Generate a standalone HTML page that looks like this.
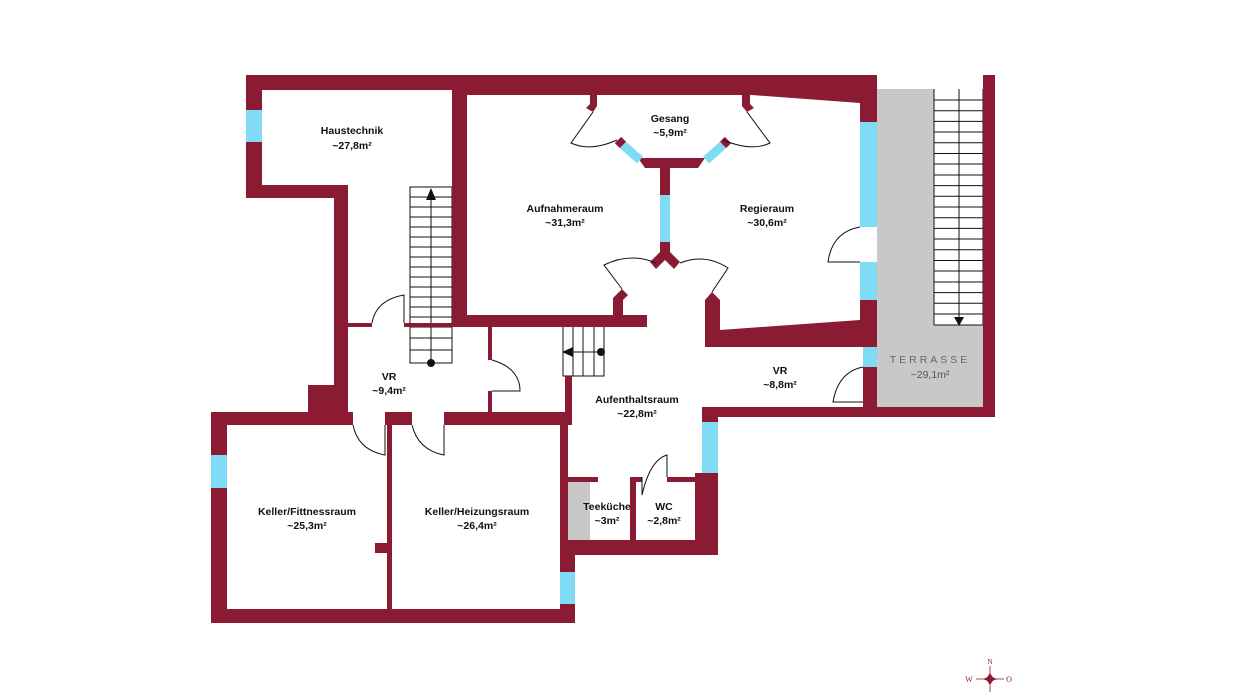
<!DOCTYPE html>
<html><head><meta charset="utf-8"><style>
html,body{margin:0;padding:0;background:#fff;}
svg{display:block}
text{font-family:"Liberation Sans",sans-serif;font-weight:bold;font-size:10.5px;fill:#111;text-anchor:middle}
</style></head><body>
<svg width="1236" height="700" viewBox="0 0 1236 700" xmlns="http://www.w3.org/2000/svg">
<g fill="#c8c8c8">
<rect x="877" y="89" width="106" height="318"/>
<rect x="568" y="482" width="22" height="58"/>
</g>
<rect x="934" y="89" width="49" height="236" fill="#fff"/>
<g stroke="#111" stroke-width="1" fill="none">
<path d="M934 89V325M983 89V325M959 89V320"/>
<path d="M934 100H983M934 110.7H983M934 121.4H983M934 132H983M934 142.8H983M934 153.5H983M934 164H983M934 175H983M934 185.6H983M934 196.3H983M934 207H983M934 217.7H983M934 228.4H983M934 239H983M934 249.8H983M934 260.5H983M934 271H983M934 282H983M934 292.6H983M934 303.3H983M934 314H983M934 325H983"/>
</g>
<path d="M954 317H964L959 326Z" fill="#111"/>
<rect x="410" y="187" width="42" height="176" fill="#fff"/>
<g stroke="#111" stroke-width="1" fill="none">
<path d="M410 187V363H452V187ZM431 195V363"/>
<path d="M410 197H452M410 207H452M410 217H452M410 227H452M410 237H452M410 247H452M410 257H452M410 267H452M410 277H452M410 287H452M410 297H452M410 307H452M410 317H452M410 327H452M410 338H452M410 350H452"/>
<path d="M563 327V376H604V327M573 327V376M583 327V376M594 327V376M570 352H600"/>
</g>
<path d="M426 200L431 188L436 200Z" fill="#111"/>
<circle cx="431" cy="363" r="4" fill="#111"/>
<circle cx="601" cy="352" r="4" fill="#111"/>
<path d="M562 352L573 347L573 357Z" fill="#111"/>
<g fill="#8b1a33">
<rect x="246" y="75" width="631" height="15"/>
<polygon points="452,75 877,75 877,122 860,122 860,103 752,95 452,95"/>
<rect x="246" y="75" width="16" height="123"/>
<rect x="246" y="185" width="102" height="13"/>
<rect x="334" y="185" width="14" height="230"/>
<rect x="308" y="385" width="40" height="30"/>
<rect x="452" y="75" width="15" height="252"/>
<rect x="452" y="315" width="195" height="12"/>
<rect x="348" y="323" width="24" height="4"/>
<rect x="404" y="323" width="48" height="4"/>
<polygon points="613,315 613,298 622,289 628,295 623,300 623,315"/>
<polygon points="705,347 705,300 712,292 720,300 720,330 860,320 860,300 877,300 877,347"/>
<rect x="860" y="300" width="17" height="47"/>
<rect x="488" y="327" width="4" height="33"/>
<rect x="488" y="391" width="4" height="24"/>
<rect x="211" y="412" width="142" height="13"/>
<rect x="385" y="412" width="27" height="13"/>
<rect x="444" y="412" width="124" height="13"/>
<rect x="565" y="376" width="7" height="49"/>
<rect x="211" y="412" width="16" height="211"/>
<rect x="211" y="609" width="364" height="14"/>
<rect x="387" y="425" width="5" height="184"/>
<rect x="375" y="543" width="12" height="10"/>
<rect x="560" y="425" width="8" height="130"/>
<rect x="560" y="552" width="15" height="71"/>
<rect x="568" y="540" width="150" height="15"/>
<rect x="695" y="473" width="23" height="82"/>
<rect x="702" y="407" width="16" height="15"/>
<rect x="702" y="407" width="293" height="10"/>
<rect x="983" y="75" width="12" height="342"/>
<rect x="860" y="75" width="17" height="47"/>
<rect x="568" y="477" width="30" height="5"/>
<rect x="630" y="477" width="12" height="5"/>
<rect x="630" y="477" width="6" height="63"/>
<rect x="667" y="477" width="28" height="5"/>
<rect x="863" y="367" width="14" height="40"/>
<polygon points="590,95 597,95 597,106 593,112 586,108 590,104"/>
<polygon points="742,95 750,95 750,104 754,108 747,112 742,106"/>
<polygon points="638,158 705,158 698,168 670,168 670,195 660,195 660,168 645,168"/>
<rect x="660" y="242" width="10" height="12"/>
<polygon points="660,252 670,252 680,262 674,269 665,260 656,269 650,262"/>
</g>
<g stroke="#8b1a33" stroke-width="9" fill="none">
<path d="M618 140L623 145M723 145L728 140"/>
</g>
<g stroke="#80dcf4" stroke-width="9" fill="none">
<path d="M623 145L640 160M706 160L723 145"/>
</g>
<g fill="#80dcf4">
<rect x="246" y="110" width="16" height="32"/>
<rect x="860" y="122" width="17" height="105"/>
<rect x="860" y="262" width="17" height="38"/>
<rect x="660" y="195" width="10" height="47"/>
<rect x="863" y="347" width="14" height="20"/>
<rect x="211" y="455" width="16" height="33"/>
<rect x="560" y="572" width="15" height="32"/>
<rect x="702" y="422" width="16" height="51"/>
</g>
<g stroke="#111" stroke-width="1" fill="none">
<path d="M372 323Q376 300 404 295V323"/>
<path d="M492 360Q520 368 520 391H492"/>
<path d="M353 425Q358 450 385 455V425"/>
<path d="M444 425V455Q418 450 412 425"/>
<path d="M642 477V495Q650 460 667 455V477"/>
<path d="M860 227Q832 232 828 262H860"/>
<path d="M863 367Q838 372 833 402H863"/>
<path d="M593 112L571 143Q590 152 617 140"/>
<path d="M747 112L770 143Q752 152 723 140"/>
<path d="M622 289L604 265Q630 252 656 263"/>
<path d="M712 292L728 268Q705 253 680 263"/>
</g>
<text x="352" y="134">Haustechnik</text><text x="352" y="149">~27,8m²</text>
<text x="565" y="212">Aufnahmeraum</text><text x="565" y="226">~31,3m²</text>
<text x="670" y="122">Gesang</text><text x="670" y="136">~5,9m²</text>
<text x="767" y="212">Regieraum</text><text x="767" y="226">~30,6m²</text>
<text x="389" y="380">VR</text><text x="389" y="394">~9,4m²</text>
<text x="637" y="403">Aufenthaltsraum</text><text x="637" y="417">~22,8m²</text>
<text x="780" y="374">VR</text><text x="780" y="388">~8,8m²</text>
<text x="930" y="363" style="fill:#666;font-weight:normal;letter-spacing:3px">TERRASSE</text>
<text x="930" y="378" style="fill:#555;font-weight:normal">~29,1m²</text>
<text x="307" y="515">Keller/Fittnessraum</text><text x="307" y="529">~25,3m²</text>
<text x="477" y="515">Keller/Heizungsraum</text><text x="477" y="529">~26,4m²</text>
<text x="607" y="510">Teeküche</text><text x="607" y="524">~3m²</text>
<text x="664" y="510">WC</text><text x="664" y="524">~2,8m²</text>
<g fill="#8b1a33">
<polygon points="990,673 994,679 990,685 986,679"/>
<polygon points="983,679 990,676 997,679 990,682"/>
</g>
<g stroke="#8b1a33" stroke-width="0.8" fill="none"><path d="M990 666V692M976 679H1004"/></g>
<text x="990" y="664" style="font-size:7px;fill:#8b1a33;font-weight:normal;font-family:'Liberation Serif',serif">N</text>
<text x="969" y="682" style="font-size:8px;fill:#8b1a33;font-weight:normal;font-family:'Liberation Serif',serif">W</text>
<text x="1009" y="682" style="font-size:8px;fill:#8b1a33;font-weight:normal;font-family:'Liberation Serif',serif">O</text>
</svg>
</body></html>
